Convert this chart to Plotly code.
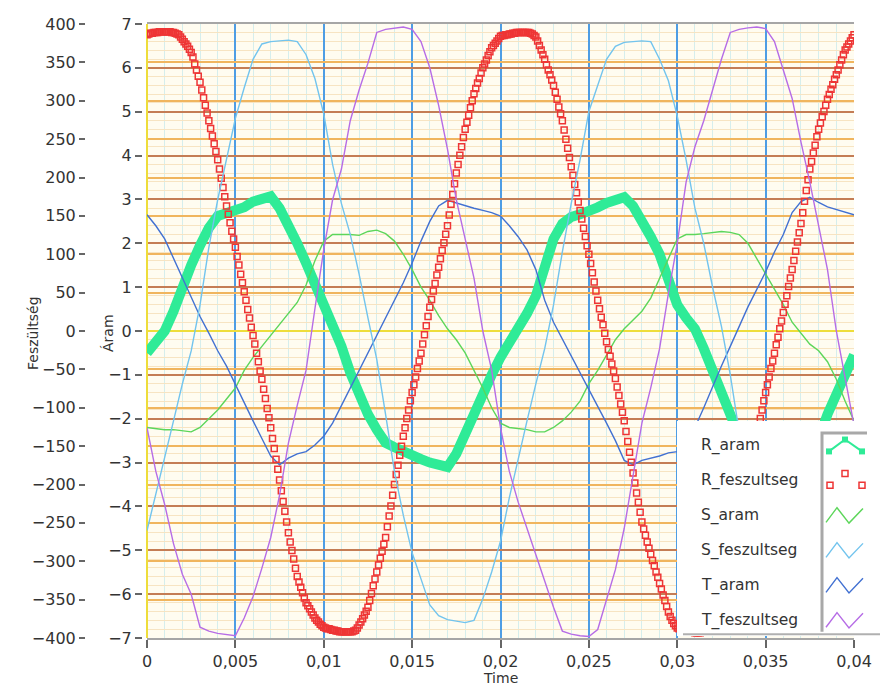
import plotly.graph_objects as go

# ---------------- data ----------------
STEP = 0.0005          # s, sampling of the thin curves and R_aram
STEP_R = 0.0001        # s, sampling of R_feszultseg markers

R_aram = [-0.5, -0.25, 0.0, 0.45, 1.05, 1.5, 1.95, 2.35, 2.62, 2.68,
          2.72, 2.82, 2.95, 3.02, 3.07, 2.8, 2.45, 2.0, 1.55, 1.1,
          0.65, 0.15, -0.35, -0.95, -1.45, -1.9, -2.25, -2.55, -2.65, -2.72,
          -2.8, -2.92, -3.0, -3.05, -3.1, -2.8, -2.35, -1.8, -1.35, -1.0,
          -0.6, -0.3, 0.0, 0.4, 0.8, 1.4, 2.1, 2.45, 2.6, 2.66,
          2.72, 2.82, 2.92, 3.0, 3.05, 2.85, 2.55, 2.15, 1.75, 1.2,
          0.6, 0.3, 0.05, -0.4, -0.9, -1.45, -2.0, -2.4, -2.6, -2.7,
          -2.8, -2.9, -3.0, -3.05, -3.1, -2.8, -2.45, -1.9, -1.45, -1.0,
          -0.55]

S_aram = [-2.2, -2.22, -2.25, -2.25, -2.28, -2.3, -2.2, -2.0, -1.8, -1.55,
          -1.3, -0.9, -0.6, -0.35, -0.1, 0.15, 0.4, 0.65, 1.05, 1.6,
          2.05, 2.2, 2.2, 2.2, 2.18, 2.27, 2.3, 2.22, 2.05, 1.75,
          1.4, 1.0, 0.7, 0.35, 0.05, -0.2, -0.5, -0.9, -1.3, -1.75,
          -2.1, -2.2, -2.22, -2.25, -2.3, -2.3, -2.2, -2.05, -1.85, -1.6,
          -1.2, -0.9, -0.55, -0.2, 0.05, 0.25, 0.45, 0.75, 1.2, 1.65,
          2.1, 2.2, 2.2, 2.22, 2.25, 2.27, 2.25, 2.2, 2.0, 1.65,
          1.3, 0.95, 0.6, 0.2, -0.05, -0.3, -0.45, -0.7, -1.1, -1.6,
          -2.05]

T_aram = [2.65, 2.4, 2.1, 1.65, 1.2, 0.75, 0.33, -0.05, -0.45, -0.8,
          -1.23, -1.65, -2.05, -2.45, -2.85, -3.05, -2.9, -2.8, -2.75, -2.6,
          -2.4, -2.1, -1.7, -1.3, -0.9, -0.5, -0.1, 0.3, 0.7, 1.1,
          1.55, 2.05, 2.5, 2.85, 2.98, 2.92, 2.85, 2.8, 2.75, 2.7,
          2.62, 2.4, 2.15, 1.85, 1.4, 0.7, 0.2, -0.19, -0.57, -0.95,
          -1.33, -1.72, -2.1, -2.5, -2.95, -3.05, -2.95, -2.9, -2.85, -2.78,
          -2.75, -2.6, -2.2, -1.75, -1.26, -0.8, -0.35, 0.1, 0.55, 0.95,
          1.35, 1.8, 2.2, 2.7, 2.95, 3.05, 2.93, 2.83, 2.77, 2.72,
          2.65]

S_feszultseg = [-260, -211, -166, -117, -69, -26, 34, 109, 171, 226,
                277, 317, 354, 374, 377, 378, 379, 377, 360, 329,
                283, 217, 166, 126, 74, 17, -37, -109, -183, -240,
                -289, -323, -357, -371, -376, -378, -380, -377, -349, -314,
                -274, -217, -166, -117, -69, -23, 34, 103, 166, 223,
                286, 320, 354, 371, 376, 377, 378, 377, 354, 326,
                280, 223, 160, 114, 57, 6, -57, -131, -189, -240,
                -286, -323, -357, -371, -376, -378, -380, -377, -349, -309,
                -263]

T_feszultseg = [-126, -183, -226, -277, -317, -343, -386, -391, -394, -396,
                -397, -374, -346, -309, -269, -214, -146, -97, -51, 29,
                106, 171, 211, 274, 314, 349, 389, 393, 395, 396,
                393, 377, 343, 294, 237, 171, 120, 69, 0, -51,
                -126, -183, -223, -257, -294, -326, -360, -391, -395, -397,
                -398, -389, -351, -311, -257, -189, -120, -74, -23, 49,
                114, 194, 240, 274, 314, 354, 389, 393, 395, 396,
                394, 377, 340, 303, 246, 194, 137, 80, 0, -60,
                -123]

R_feszultseg = [
    386, 387, 388, 388, 389, 389, 389, 390, 390, 390,
    390, 390, 390, 390, 389, 389, 388, 387, 386, 383,
    380, 377, 374, 371, 367, 363, 357, 348, 340, 332,
    324, 314, 304, 294, 284, 274, 264, 254, 244, 234,
    223, 211, 199, 187, 175, 163, 152, 141, 130, 120,
    109, 97, 86, 74, 63, 51, 40, 28, 17, 5,
    -6, -17, -29, -40, -52, -63, -76, -88, -101, -113,
    -126, -140, -153, -167, -180, -194, -208, -222, -235, -249,
    -263, -275, -286, -297, -309, -320, -327, -334, -341, -348,
    -354, -358, -362, -366, -370, -374, -377, -379, -382, -384,
    -386, -387, -388, -388, -389, -390, -390, -391, -391, -392,
    -392, -392, -392, -392, -392, -392, -392, -391, -390, -387,
    -383, -379, -375, -370, -365, -360, -351, -342, -332, -323,
    -314, -305, -296, -287, -278, -269, -255, -241, -228, -214,
    -200, -187, -175, -162, -150, -137, -126, -114, -103, -91,
    -80, -70, -60, -49, -39, -29, -17, -5, 7, 19,
    31, 41, 52, 62, 73, 83, 94, 105, 115, 126,
    137, 151, 165, 178, 192, 206, 217, 229, 240, 252,
    263, 272, 281, 291, 300, 309, 316, 323, 329, 336,
    343, 348, 353, 359, 364, 369, 372, 375, 378, 381,
    384, 385, 385, 386, 386, 387, 387, 388, 388, 389,
    389, 389, 389, 389, 389, 389, 389, 388, 387, 385,
    383, 378, 372, 366, 360, 354, 347, 340, 334, 327,
    320, 311, 302, 292, 283, 274, 262, 250, 238, 226,
    214, 203, 191, 180, 168, 157, 146, 134, 123, 111,
    100, 88, 76, 64, 52, 40, 29, 18, 8, -3,
    -14, -24, -33, -43, -52, -62, -73, -84, -95, -106,
    -117, -131, -144, -158, -171, -185, -198, -211, -223, -236,
    -249, -258, -266, -275, -283, -291, -299, -306, -314, -321,
    -329, -336, -344, -351, -359, -366, -372, -377, -381, -384,
    -387, -388, -389, -390, -390, -391, -391, -392, -392, -392,
    -393, -393, -393, -393, -392, -392, -392, -391, -390, -387,
    -383, -379, -375, -370, -365, -360, -351, -342, -332, -323,
    -314, -304, -293, -283, -273, -263, -252, -240, -229, -217,
    -206, -192, -178, -165, -151, -137, -126, -114, -103, -91,
    -80, -70, -60, -49, -39, -29, -18, -8, 3, 13,
    24, 35, 46, 58, 69, 80, 92, 104, 116, 128,
    140, 154, 169, 183, 197, 211, 221, 232, 242, 253,
    263, 271, 279, 286, 294, 302, 308, 315, 321, 328,
    334, 340, 347, 353, 360, 366, 370, 374, 378, 382,
    386]

SERIES_NAMES = ["R_aram", "R_feszultseg", "S_aram", "S_feszultseg", "T_aram", "T_feszultseg"]
COLORS = {"R_aram": "#2FEB97", "R_feszultseg": "#EE3535", "S_aram": "#5CD65A",
          "S_feszultseg": "#72C4EE", "T_aram": "#4271D2", "T_feszultseg": "#B66CE6"}

time = [round(i * STEP, 7) for i in range(len(R_aram))]
time_r = [round(i * STEP_R, 7) for i in range(len(R_feszultseg))]

# ---------------- layout geometry (pixels) ----------------
W, H = 880, 700
ML, MR, MT, MB = 80, 0, 24, 62
PW, PH = W - ML - MR, H - MT - MB


def px_x(p):
    return (p - ML) / PW


def px_y(p):
    return (H - MB - p) / PH


FONT = "DejaVu Sans"
TXT = "#333333"

fig = go.Figure()

# currents (Áram axis = y)
fig.add_trace(go.Scatter(x=time, y=R_aram, mode="lines", yaxis="y", name="R_aram",
                         line=dict(color=COLORS["R_aram"], width=10)))
fig.add_trace(go.Scatter(x=time, y=S_aram, mode="lines", yaxis="y", name="S_aram",
                         line=dict(color=COLORS["S_aram"], width=1.4)))
fig.add_trace(go.Scatter(x=time, y=T_aram, mode="lines", yaxis="y", name="T_aram",
                         line=dict(color=COLORS["T_aram"], width=1.4)))
# voltages (Feszültség axis = y2)
fig.add_trace(go.Scatter(x=time_r, y=R_feszultseg, mode="markers", yaxis="y2", name="R_feszultseg",
                         marker=dict(symbol="square-open", size=6, color=COLORS["R_feszultseg"],
                                     line=dict(width=1.5, color=COLORS["R_feszultseg"]))))
fig.add_trace(go.Scatter(x=time, y=S_feszultseg, mode="lines", yaxis="y2", name="S_feszultseg",
                         line=dict(color=COLORS["S_feszultseg"], width=1.4)))
fig.add_trace(go.Scatter(x=time, y=T_feszultseg, mode="lines", yaxis="y2", name="T_feszultseg",
                         line=dict(color=COLORS["T_feszultseg"], width=1.4)))

# ---------------- custom legend (own small subplot) ----------------
LEG_X = [0, 203]
LEG_Y = [-0.45, 5.7]
fig.add_trace(go.Scatter(x=[0, 203, 203, 0, 0], y=[-0.45, -0.45, 5.7, 5.7, -0.45],
                         xaxis="x3", yaxis="y3", mode="lines", fill="toself",
                         fillcolor="#FFFFFF", line=dict(width=0, color="#FFFFFF"),
                         hoverinfo="skip"))
fig.add_trace(go.Scatter(x=[145, 145, 190], y=[-0.33, 5.36, 5.36], xaxis="x3", yaxis="y3",
                         mode="lines", line=dict(color="#A8A8A8", width=3), hoverinfo="skip"))
fig.add_trace(go.Scatter(x=[6, 203], y=[-0.40, -0.40], xaxis="x3", yaxis="y3",
                         mode="lines", line=dict(color="#B0B0B0", width=2), hoverinfo="skip"))

for i, name in enumerate(SERIES_NAMES):
    yr = 5 - i
    c = COLORS[name]
    if name == "R_aram":
        fig.add_trace(go.Scatter(x=[152, 168, 185], y=[yr - 0.17, yr + 0.17, yr - 0.17],
                                 xaxis="x3", yaxis="y3", mode="lines+markers",
                                 line=dict(color=c, width=2),
                                 marker=dict(symbol="square", size=6, color=c), hoverinfo="skip"))
    elif name == "R_feszultseg":
        fig.add_trace(go.Scatter(x=[153, 168, 185], y=[yr - 0.14, yr + 0.2, yr - 0.14],
                                 xaxis="x3", yaxis="y3", mode="markers",
                                 marker=dict(symbol="square-open", size=6, color=c,
                                             line=dict(width=1.5, color=c)), hoverinfo="skip"))
    else:
        fig.add_trace(go.Scatter(x=[149, 160, 172, 186], y=[yr - 0.2, yr + 0.22, yr - 0.22, yr + 0.2],
                                 xaxis="x3", yaxis="y3", mode="lines",
                                 line=dict(color=c, width=1.4), hoverinfo="skip"))
    fig.add_annotation(x=22, y=yr, xref="x3", yref="y3", text=name, showarrow=False,
                       xanchor="left", yanchor="middle", font=dict(family=FONT, size=15.5, color=TXT))

# axis titles
fig.add_annotation(x=px_x(23), y=px_y(333), xref="paper", yref="paper", text="Feszültség",
                   textangle=-90, showarrow=False, font=dict(family=FONT, size=14, color=TXT))
fig.add_annotation(x=px_x(98), y=px_y(333), xref="paper", yref="paper", text="Áram",
                   textangle=-90, showarrow=False, font=dict(family=FONT, size=14, color=TXT))
fig.add_annotation(x=px_x(500), y=px_y(688), xref="paper", yref="paper", text="Time",
                   showarrow=False, font=dict(family=FONT, size=14, color=TXT))

tickfont = dict(family=FONT, size=16, color=TXT)

fig.update_layout(
    width=W, height=H,
    margin=dict(l=ML, r=MR, t=MT, b=MB, autoexpand=False),
    paper_bgcolor="#FFFFFF",
    plot_bgcolor="#FFFCF0",
    separators=",.",
    showlegend=False,
    xaxis=dict(domain=[px_x(147), px_x(854)], range=[0, 0.04], dtick=0.005, tick0=0,
               anchor="y", showgrid=True, gridcolor="#4E9DE4", gridwidth=2,
               zeroline=True, zerolinecolor="#EEDD3A", zerolinewidth=2,
               showline=True, mirror=True, linecolor="#A6A6A6", linewidth=2,
               ticks="outside", ticklen=8, tickcolor="#666666", tickwidth=1.5,
               tickfont=tickfont, automargin=False,
               minor=dict(dtick=0.001, showgrid=True, gridcolor="#D6EEEC", gridwidth=1, ticks="")),
    yaxis=dict(range=[-7, 7], dtick=1, tick0=0, anchor="free", position=px_x(142), side="left",
               showgrid=True, gridcolor="#C47D55", gridwidth=2,
               zeroline=True, zerolinecolor="#EEDD3A", zerolinewidth=2,
               showline=False, ticks="outside", ticklen=7, tickcolor="#666666", tickwidth=1.5,
               tickfont=tickfont, automargin=False,
               minor=dict(dtick=0.2, showgrid=True, gridcolor="#F7E4C2", gridwidth=1, ticks="")),
    yaxis2=dict(range=[-400, 400], dtick=50, tick0=0, overlaying="y", anchor="free",
                position=px_x(85), side="left",
                showgrid=True, gridcolor="#F0B55E", gridwidth=2,
                zeroline=True, zerolinecolor="#EEDD3A", zerolinewidth=2,
                showline=False, ticks="outside", ticklen=6, tickcolor="#666666", tickwidth=1.5,
                tickfont=tickfont, automargin=False),
    xaxis3=dict(domain=[px_x(677), 1.0], range=LEG_X, anchor="y3", visible=False, fixedrange=True),
    yaxis3=dict(domain=[px_y(636), px_y(421)], range=LEG_Y, anchor="x3", visible=False, fixedrange=True),
)

fig.write_html("out.html")
